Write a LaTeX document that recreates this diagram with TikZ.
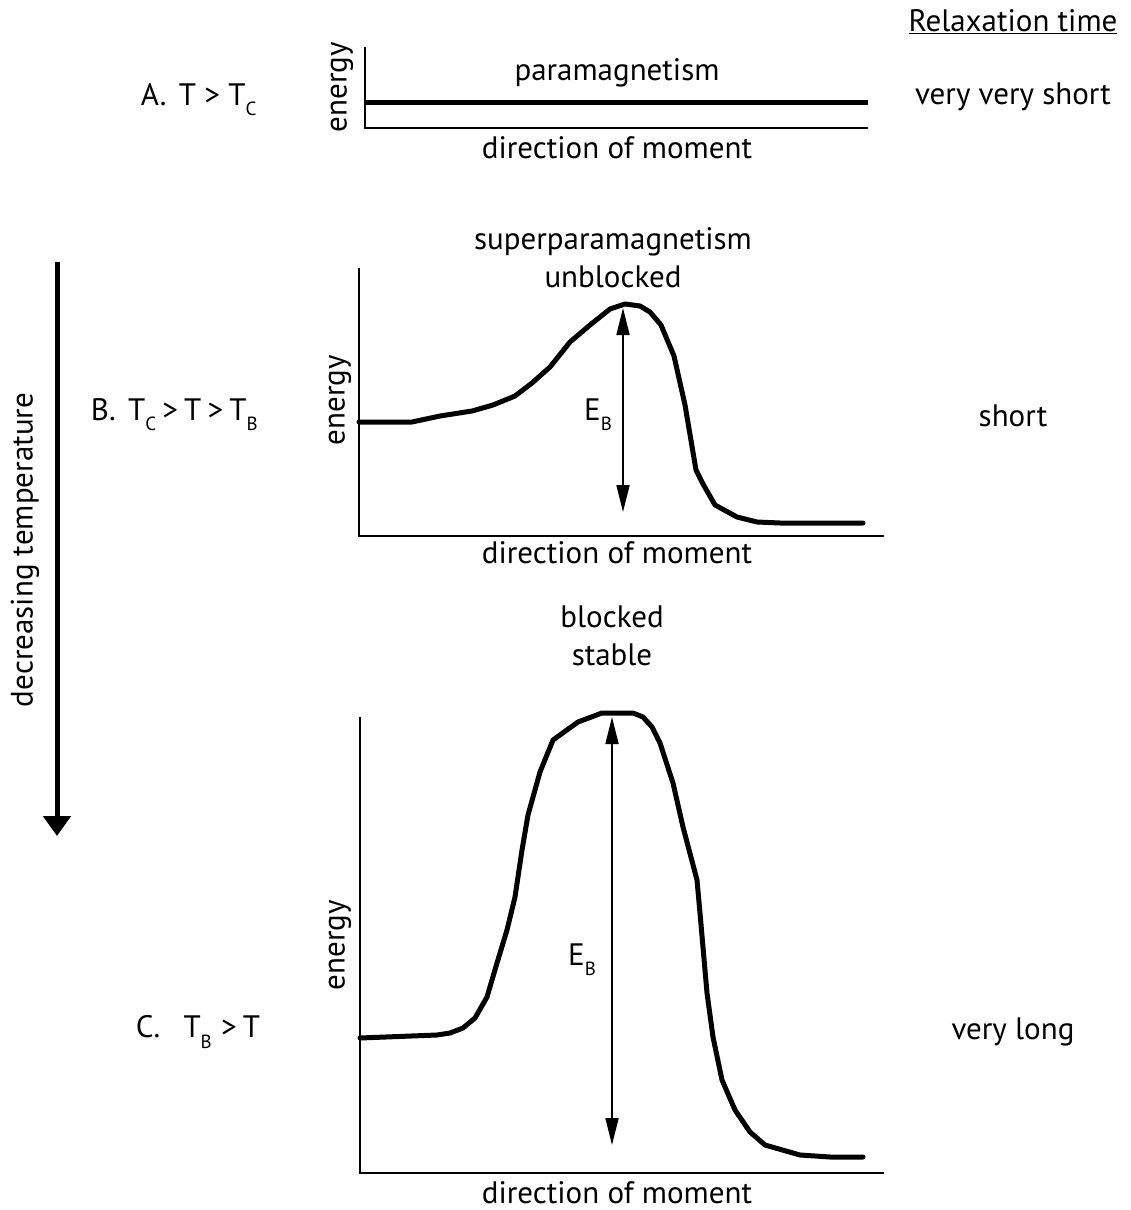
\documentclass[tikz,border=0pt]{standalone}
\usepackage{fontspec}
\setmainfont{PT Sans}
\usepackage{tikz}
\usetikzlibrary{arrows.meta}

\newcommand{\lowsub}[1]{\raisebox{-0.65ex}{\fontsize{19}{19}\selectfont #1}}

\tikzset{
  lbl/.style={inner sep=0.75pt, font=\fontsize{31}{36}\selectfont},
  axisline/.style={line width=2.4pt},
  curveline/.style={line width=5pt, line join=round, line cap=round},
  barrier/.style={line width=1.8pt, {Triangle[length=27pt,width=13pt]}-{Triangle[length=27pt,width=13pt]}},
}

\begin{document}
\begin{tikzpicture}[x=1pt,y=1pt,yscale=-1,xscale=1]
\useasboundingbox (0,0) rectangle (1131,1210);

%Relaxation column
\draw (1013,22) node [lbl] (relax) {\underline{Relaxation time}};
\draw (1013,97) node [lbl] (tA) {very very short};
\draw (1013,416) node [lbl] (tB) {short};
\draw (1013,1032) node [lbl] (tC) {very long};

%Temperature arrow
\coordinate (tempTop) at (57,262);
\coordinate (tempEnd) at (57,836);
\draw [line width=5pt, -{Triangle[length=20pt,width=27pt]}] (tempTop) -- (tempEnd);
\draw (25,550) node [lbl, rotate=90] (temp) {decreasing temperature};

% Text Node
\draw (140,100) node [lbl, anchor=west] (condA) {A.\hspace{0.4em}T > T\lowsub{C}};
% Text Node
\draw (90,415) node [lbl, anchor=west] (condB) {B.\hspace{0.4em}T\lowsub{C}\hspace{0.2em}>\hspace{0.2em}T\hspace{0.2em}>\hspace{0.2em}T\lowsub{B}};
% Text Node
\draw (135,1032) node [lbl, anchor=west] (condC) {C.\hspace{0.75em}T\lowsub{B}\hspace{0.3em}>\hspace{0.2em}T};

%Panel A
\draw [axisline] (365,47) -- (365,128) -- (868,128);
\draw [line width=5pt] (365,102) -- (868,102);
\draw (342,87) node [lbl, rotate=90] (enA) {energy};
\draw (617,73) node [lbl] (para) {paramagnetism};
\draw (617,148) node [lbl] (dirA) {direction of moment};

%Panel B
\draw [axisline] (359,268) -- (359,536) -- (884,536);
\draw [curveline] (359,422) -- (412,422) -- (440,416) -- (472,411) -- (493,405) -- (515,396) -- (532,383) -- (550,367) -- (570,342) -- (590,325) -- (610,309) -- (625,304) -- (640,306) -- (650,312) -- (661,325) -- (674,356) -- (685,405) -- (696,470) -- (703,484) -- (715,505) -- (737,517) -- (757,522) -- (780,523) -- (863,523);
\coordinate (topB) at (623,308);
\coordinate (botB) at (623,512);
\draw [barrier] (topB) -- (botB);
\draw (598,415) node [lbl] (ebB) {E\lowsub{B}};
\draw (340,400) node [lbl, rotate=90] (enB) {energy};
\draw (613,242) node [lbl] (sup) {superparamagnetism};
\draw (613,277) node [lbl] (unb) {unblocked};
\draw (617,553) node [lbl] (dirB) {direction of moment};

%Panel C
\draw [axisline] (360,717) -- (360,1173) -- (884,1173);
\draw [curveline] (360,1038) -- (437,1035) -- (450,1033) -- (463,1028) -- (475,1018) -- (487,997) -- (497,963) -- (507,930) -- (515,897) -- (522,850) -- (528,815) -- (540,772) -- (553,740) -- (578,722) -- (602,713) -- (620,713) -- (633,713) -- (643,717) -- (652,727) -- (660,743) -- (673,783) -- (683,827) -- (697,880) -- (700,913) -- (707,993) -- (713,1037) -- (722,1080) -- (735,1110) -- (750,1132) -- (765,1145) -- (800,1155) -- (830,1157) -- (863,1157);
\coordinate (topC) at (612,717);
\coordinate (botC) at (612,1145);
\draw [barrier] (topC) -- (botC);
\draw (582,960) node [lbl] (ebC) {E\lowsub{B}};
\draw (340,945) node [lbl, rotate=90] (enC) {energy};
\draw (612,617) node [lbl] (blk) {blocked};
\draw (612,655) node [lbl] (stb) {stable};
\draw (617,1193) node [lbl] (dirC) {direction of moment};

\end{tikzpicture}
\end{document}
